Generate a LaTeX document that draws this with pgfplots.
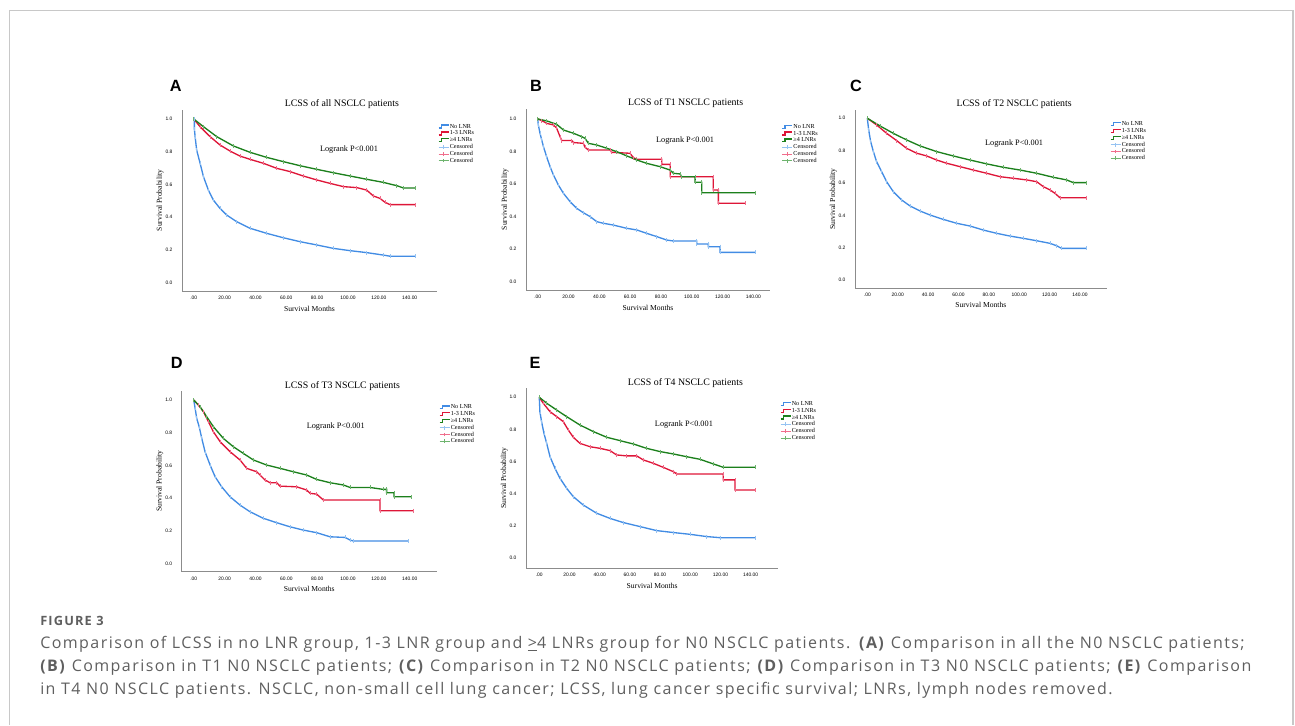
\documentclass[border=0pt]{standalone}
\usepackage{fontspec}
\setmainfont{Liberation Serif}
\newfontfamily\arial{Liberation Sans}
\newfontfamily\capfont[LetterSpace=9]{Open Sans}
\usepackage{pgfplots}
\usepackage{pgfplotstable}
\pgfplotsset{compat=1.18}

\definecolor{kmblue}{RGB}{66,140,228}
\definecolor{kmred}{RGB}{222,22,56}
\definecolor{kmgreen}{RGB}{28,128,28}
\definecolor{cblue}{RGB}{150,195,242}
\definecolor{cred}{RGB}{240,110,140}
\definecolor{cgreen}{RGB}{110,180,110}
\definecolor{axgray}{RGB}{140,140,140}
\definecolor{capgray}{RGB}{95,95,95}
\definecolor{framegray}{RGB}{200,200,200}

% ---- curves (months, survival) ----
\pgfplotstableread{
x y
0 1.000
0.4 1.000
0.4 0.940
0.9 0.892
1.9 0.810
4.1 0.730
6.3 0.647
9.5 0.565
12.7 0.504
17.0 0.453
21.4 0.412
27.9 0.371
36.5 0.331
47.3 0.300
58.1 0.273
68.9 0.249
79.7 0.229
90.5 0.208
101.3 0.194
112.1 0.182
122.9 0.167
127.2 0.160
143.4 0.160
}\Ablue
\pgfplotstableread{
x y
0 1.000
4.1 0.953
10.6 0.892
17.0 0.841
23.5 0.804
30.0 0.773
36.5 0.753
45.1 0.729
53.8 0.698
62.4 0.678
71.0 0.651
79.7 0.627
88.3 0.606
97.0 0.586
105.6 0.580
112.1 0.565
116.4 0.529
120.7 0.514
124.0 0.490
127.2 0.476
143.4 0.476
}\Ared
\pgfplotstableread{
x y
0 1.000
6.3 0.953
14.9 0.892
25.7 0.835
36.5 0.796
47.3 0.765
58.1 0.739
68.9 0.714
79.7 0.692
90.5 0.671
101.3 0.651
112.1 0.631
122.9 0.612
131.5 0.592
135.9 0.578
143.4 0.578
}\Agreen

\pgfplotstableread{
x y
0 1.000
0.4 0.963
1.5 0.912
2.6 0.871
3.7 0.830
5.8 0.768
8.0 0.707
10.2 0.656
13.4 0.594
16.7 0.543
21.0 0.492
25.3 0.451
29.6 0.424
34.0 0.400
38.3 0.369
42.6 0.359
49.1 0.348
57.8 0.328
64.3 0.318
70.8 0.297
77.3 0.277
83.7 0.256
88.1 0.250
103.2 0.250
103.2 0.232
110.8 0.232
110.8 0.215
118.4 0.215
118.4 0.180
141.1 0.180
}\Bblue
\pgfplotstableread{
x y
0 1.000
2.6 0.990
5.8 0.973
10.2 0.963
12.3 0.943
14.5 0.891
15.6 0.867
22.1 0.867
23.2 0.855
29.6 0.850
30.7 0.826
32.9 0.809
47.0 0.809
48.0 0.795
59.9 0.789
62.1 0.762
64.3 0.752
80.5 0.752
80.5 0.721
86.0 0.721
86.0 0.645
114.0 0.645
114.0 0.563
117.3 0.563
117.3 0.482
134.6 0.482
}\Bred
\pgfplotstableread{
x y
0 1.000
5.8 0.988
12.3 0.967
16.7 0.932
23.2 0.912
28.6 0.891
30.7 0.881
32.9 0.850
38.3 0.840
44.8 0.820
51.3 0.799
57.8 0.773
64.3 0.748
70.8 0.727
79.4 0.707
85.9 0.686
88.1 0.666
92.4 0.662
93.5 0.645
102.2 0.645
102.2 0.611
106.5 0.611
106.5 0.547
141.1 0.547
}\Bgreen

\pgfplotstableread{
x y
0 1.000
0.9 0.928
2.2 0.856
4.0 0.794
6.1 0.732
9.4 0.670
12.7 0.608
17.1 0.546
22.6 0.495
28.1 0.458
34.7 0.427
41.3 0.402
50.0 0.375
58.8 0.351
67.6 0.334
76.4 0.309
85.1 0.289
93.9 0.272
102.7 0.258
111.5 0.243
120.3 0.227
124.6 0.212
127.9 0.196
144.4 0.196
}\Cblue
\pgfplotstableread{
x y
0 1.000
6.1 0.959
12.7 0.907
19.3 0.862
25.9 0.814
32.5 0.784
39.1 0.767
45.6 0.742
52.2 0.722
61.0 0.701
69.8 0.680
78.6 0.660
87.3 0.639
96.1 0.629
104.9 0.619
111.5 0.608
115.9 0.577
120.3 0.557
123.5 0.536
126.8 0.509
144.4 0.509
}\Cred
\pgfplotstableread{
x y
0 1.000
8.3 0.953
17.1 0.907
25.9 0.866
34.7 0.829
45.6 0.794
56.6 0.767
67.6 0.742
78.6 0.718
89.5 0.697
100.5 0.680
111.5 0.660
122.5 0.635
131.2 0.619
135.6 0.602
144.4 0.602
}\Cgreen

\pgfplotstableread{
x y
0 1.000
0.9 0.949
1.9 0.888
3.5 0.837
5.2 0.765
7.3 0.684
10.6 0.602
13.8 0.531
18.1 0.469
23.5 0.408
30.0 0.357
36.5 0.316
45.1 0.276
53.8 0.249
62.4 0.224
71.0 0.204
79.7 0.188
88.3 0.163
98.1 0.159
101.3 0.143
103.5 0.137
139.1 0.137
}\Dblue
\pgfplotstableread{
x y
0 1.000
3.0 0.969
6.3 0.929
9.5 0.867
12.7 0.806
17.1 0.745
23.5 0.684
30.0 0.633
34.3 0.582
40.8 0.561
43.0 0.541
46.2 0.510
49.5 0.494
53.8 0.494
55.9 0.473
66.7 0.469
73.2 0.449
75.4 0.429
79.7 0.424
84.0 0.388
120.7 0.388
120.7 0.322
142.3 0.322
}\Dred
\pgfplotstableread{
x y
0 1.000
4.1 0.959
8.4 0.898
12.7 0.837
19.2 0.765
25.7 0.714
32.2 0.673
38.7 0.633
47.3 0.602
55.9 0.582
64.6 0.561
73.2 0.541
79.7 0.514
88.3 0.494
97.0 0.480
101.3 0.465
114.2 0.465
122.9 0.453
125.0 0.453
125.0 0.433
129.8 0.433
129.8 0.408
141.2 0.408
}\Dgreen

\pgfplotstableread{
x y
0 1.000
0.4 0.911
1.5 0.849
3.1 0.776
4.9 0.714
7.1 0.631
10.4 0.559
13.7 0.497
18.1 0.435
22.5 0.383
29.1 0.331
38.0 0.280
46.8 0.248
55.6 0.222
66.7 0.197
77.7 0.172
88.8 0.160
99.8 0.149
110.8 0.135
119.7 0.128
142.9 0.128
}\Eblue
\pgfplotstableread{
x y
0 1.000
2.6 0.963
7.1 0.911
11.5 0.880
15.9 0.849
19.2 0.797
22.5 0.752
26.9 0.714
33.6 0.693
40.2 0.683
46.8 0.669
51.2 0.642
57.9 0.636
64.5 0.636
68.9 0.611
75.5 0.590
82.1 0.565
88.8 0.538
91.0 0.524
121.9 0.524
121.9 0.487
129.6 0.487
129.6 0.424
142.9 0.424
}\Ered
\pgfplotstableread{
x y
0 1.000
4.9 0.963
11.5 0.921
18.1 0.880
26.9 0.828
35.8 0.787
44.6 0.752
53.4 0.731
62.3 0.710
71.1 0.683
79.9 0.663
88.8 0.648
97.6 0.631
106.4 0.615
115.3 0.586
121.9 0.565
142.9 0.565
}\Egreen

\tikzset{lograng/.style={font=\fontsize{6.2}{7}\selectfont}}

\pgfplotsset{
  kmline/.style={line width=1pt, no markers,
    legend image code/.code={\draw[##1] (0pt,-1.1pt) -- (2pt,-1.1pt) -- (2pt,1.1pt) -- (7.5pt,1.1pt);}},
  kmcens/.style={only marks, mark=|, mark size=1.5pt, mark options={solid, line width=0.5pt},
    legend image code/.code={\path[##1, draw, line width=0.45pt] (0pt,0pt) -- (7.5pt,0pt) (3.75pt,-1.4pt) -- (3.75pt,1.4pt);}},
  km/.style={
    scale only axis,
    axis lines*=left,
    axis line style={axgray, line width=0.6pt},
    tick style={draw=none},
    major tick length=0pt,
    xtick={0,20,40,60,80,100,120,140},
    xticklabels={.00,20.00,40.00,60.00,80.00,100.00,120.00,140.00},
    ytick={0,0.2,0.4,0.6,0.8,1.0},
    yticklabels={0.0,0.2,0.4,0.6,0.8,1.0},
    ticklabel style={font=\arial\fontsize{3.7}{4}\selectfont, inner sep=0pt},
    xticklabel style={anchor=center, yshift=-5.25pt},
    yticklabel style={anchor=east, xshift=-7pt},
    xlabel={Survival Months},
    ylabel={Survival Probability},
    label style={font=\fontsize{5.7}{6}\selectfont},
    xlabel style={at={(axis description cs:0.5,-0.097)}, anchor=center},
    ylabel style={at={(axis description cs:-0.086,0.5)}, anchor=center},
    every axis title shift=0pt,
    title style={font=\fontsize{7.4}{8}\selectfont, anchor=base, inner sep=0pt},
    legend style={draw=none, fill=none, anchor=north west,
      font=\fontsize{4.6}{5}\selectfont, inner sep=0pt, outer sep=0pt, row sep=0pt,
      nodes={inner sep=0.3pt, text height=3.4pt, text depth=1.1pt}},
    legend cell align=left,
    legend entries={No LNR, 1-3 LNRs, ≥4 LNRs, Censored, Censored, Censored},
    clip=false,
  },
}

\newcommand{\kmcurves}[3]{%
  \addplot[kmline, color=kmblue] table {#1};
  \addplot[kmline, color=kmred] table {#2};
  \addplot[kmline, color=kmgreen] table {#3};
  \addplot[kmcens, color=cblue] table {#1};
  \addplot[kmcens, color=cred] table {#2};
  \addplot[kmcens, color=cgreen] table {#3};
}

\begin{document}
\begin{tikzpicture}
\begin{scope}[x=0.75pt, y=-0.75pt]
  \path[use as bounding box] (0,0) rectangle (1295,725);
  \draw[framegray, line width=0.9pt] (9.5,725) -- (9.5,10.5) -- (1293,10.5) -- (1293,725);
  \foreach \l/\xx/\yy in {A/175.7/86, B/536/86, C/856/86, D/176.7/362.7, E/535/363.3}
    \node[font=\arial\bfseries\fontsize{12.2}{13}\selectfont, inner sep=0pt] at (\xx,\yy) {\l};
  \begin{scope}[capgray, inner sep=0pt]
    \node[anchor=base west, font=\capfont\bfseries\fontsize{9.6}{12}\selectfont] at (40,625) {FIGURE 3};
    \node[anchor=base west, font=\capfont\fontsize{12}{14}\selectfont] at (40,648.3)
      {Comparison of LCSS in no LNR group, 1-3 LNR group and \underline{>}4 LNRs group for N0 NSCLC patients. \textbf{(A)} Comparison in all the N0 NSCLC patients;};
    \node[anchor=base west, font=\capfont\fontsize{12}{14}\selectfont] at (40,671.6)
      {\textbf{(B)} Comparison in T1 N0 NSCLC patients; \textbf{(C)} Comparison in T2 N0 NSCLC patients; \textbf{(D)} Comparison in T3 N0 NSCLC patients; \textbf{(E)} Comparison};
    \node[anchor=base west, font=\capfont\fontsize{12}{14}\selectfont] at (40,694.6)
      {in T4 N0 NSCLC patients. NSCLC, non-small cell lung cancer; LCSS, lung cancer specific survival; LNRs, lymph nodes removed.};
  \end{scope}
\end{scope}

% A
\begin{axis}[km, at={(136.5pt,-218.25pt)}, anchor=south west,
  width=191.25pt, height=135.75pt,
  xmin=-7.6, xmax=157.7, ymin=-0.053, ymax=1.055,
  title={LCSS of all NSCLC patients},
  title style={at={(axis description cs:0.627,1.022)}},
  legend style={at={(axis description cs:1.004,0.927)}}]
\kmcurves{\Ablue}{\Ared}{\Agreen}
\node[lograng] at (axis description cs:0.655,0.779) {Logrank P<0.001};
\end{axis}

% B
\begin{axis}[km, at={(394.5pt,-217.5pt)}, anchor=south west,
  width=183pt, height=135.75pt,
  xmin=-7.6, xmax=150.8, ymin=-0.051, ymax=1.061,
  title={LCSS of T1 NSCLC patients},
  title style={at={(axis description cs:0.654,1.017)}},
  legend style={at={(axis description cs:1.048,0.921)}}]
\kmcurves{\Bblue}{\Bred}{\Bgreen}
\node[lograng] at (axis description cs:0.652,0.825) {Logrank P<0.001};
\end{axis}

% C
\begin{axis}[km, at={(641.25pt,-216pt)}, anchor=south west,
  width=188.8pt, height=133.5pt,
  xmin=-8.1, xmax=157.6, ymin=-0.049, ymax=1.051,
  title={LCSS of T2 NSCLC patients},
  title style={at={(axis description cs:0.632,1.017)}},
  legend style={at={(axis description cs:1.013,0.939)}}]
\kmcurves{\Cblue}{\Cred}{\Cgreen}
\node[lograng] at (axis description cs:0.632,0.809) {Logrank P<0.001};
\end{axis}

% D
\begin{axis}[km, at={(136.3pt,-428.8pt)}, anchor=south west,
  width=191.25pt, height=135.75pt,
  xmin=-7.8, xmax=157.5, ymin=-0.051, ymax=1.057,
  title={LCSS of T3 NSCLC patients},
  title style={at={(axis description cs:0.63,1.015)}},
  legend style={at={(axis description cs:1.009,0.927)}}]
\kmcurves{\Dblue}{\Dred}{\Dgreen}
\node[lograng] at (axis description cs:0.604,0.805) {Logrank P<0.001};
\end{axis}

% E
\begin{axis}[km, at={(394.5pt,-426.2pt)}, anchor=south west,
  width=189.2pt, height=135pt,
  xmin=-8.8, xmax=158.3, ymin=-0.062, ymax=1.056,
  title={LCSS of T4 NSCLC patients},
  title style={at={(axis description cs:0.632,1.017)}},
  legend style={at={(axis description cs:1.007,0.932)}}]
\kmcurves{\Eblue}{\Ered}{\Egreen}
\node[lograng] at (axis description cs:0.626,0.796) {Logrank P<0.001};
\end{axis}
\end{tikzpicture}
\end{document}
